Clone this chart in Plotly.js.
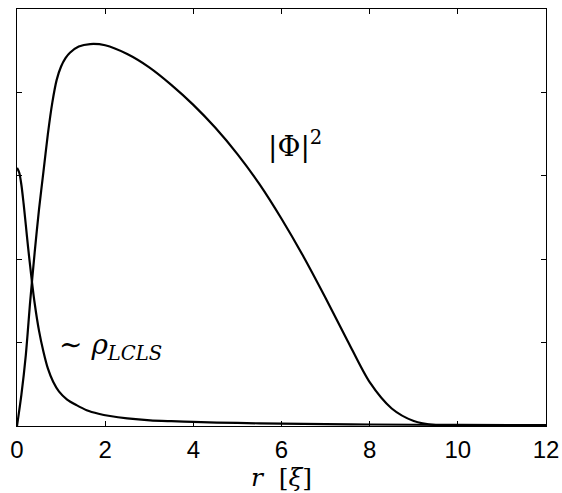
<!DOCTYPE html>
<html>
<head>
<meta charset="utf-8">
<script src="https://cdn.plot.ly/plotly-3.0.1.min.js"></script>
<style>html,body{margin:0;padding:0;background:#fff;}#chart{width:562px;height:493px;}</style>
</head>
<body>
<div id="chart"></div>
<script>
// |Phi|^2 profile
const rPhi = [0, 0.1, 0.2, 0.3, 0.4, 0.5, 0.6, 0.7, 0.8, 0.9, 1.0, 1.1, 1.2, 1.4, 1.66, 2.0, 2.5, 3.0, 3.5, 4.0, 4.5, 5.0, 5.5, 6.0, 6.5, 7.0, 7.5, 8.0, 8.5, 9.0, 9.5, 10.0, 11.0, 12];
const vPhi = [0, 0.075, 0.17, 0.30, 0.415, 0.52, 0.61, 0.70, 0.775, 0.83, 0.862, 0.882, 0.895, 0.91, 0.916, 0.913, 0.892, 0.86, 0.818, 0.77, 0.715, 0.652, 0.58, 0.497, 0.406, 0.307, 0.204, 0.105, 0.042, 0.012, 0.002, 0, 0, 0];
// ~ rho_LCLS profile
const rRho = [0, 0.05, 0.1, 0.15, 0.2, 0.25, 0.3, 0.34, 0.4, 0.5, 0.6, 0.7, 0.82, 0.95, 1.13, 1.35, 1.58, 1.85, 2.11, 2.5, 3.02, 3.5, 4, 5, 6, 7, 8, 10, 12];
const vRho = [0.619, 0.608, 0.578, 0.533, 0.482, 0.43, 0.382, 0.345, 0.295, 0.228, 0.178, 0.138, 0.106, 0.083, 0.064, 0.05, 0.038, 0.0295, 0.024, 0.0185, 0.0137, 0.0115, 0.0097, 0.0073, 0.0056, 0.0045, 0.0036, 0.0025, 0.0019];
const xTicks = [0, 2, 4, 6, 8, 10, 12];

const serif = 'DejaVu Serif';
const line = {color: '#000', width: 2.2, shape: 'spline', smoothing: 0.8};
const data = [
  {x: rPhi, y: vPhi, type: 'scatter', mode: 'lines', line: line, hoverinfo: 'skip'},
  {x: rRho, y: vRho, type: 'scatter', mode: 'lines', line: line, hoverinfo: 'skip'}
];
const layout = {
  width: 562, height: 493,
  margin: {l: 17, r: 16, t: 9, b: 67},
  paper_bgcolor: '#fff', plot_bgcolor: '#fff',
  showlegend: false,
  xaxis: {
    range: [0, 12], tickvals: xTicks, ticktext: xTicks.map(String),
    ticks: 'inside', ticklen: 5, tickcolor: '#000', tickwidth: 1,
    showline: true, linecolor: '#000', linewidth: 1.3, mirror: 'ticks',
    showgrid: false, zeroline: false, ticklabelstandoff: 2,
    tickfont: {family: 'Liberation Sans', size: 24, color: '#000'},
    title: {text: '<i>r</i>  [<i>ξ</i>]', font: {family: serif, size: 25, color: '#000'}, standoff: 0}
  },
  yaxis: {
    range: [0, 1], dtick: 0.2, tick0: 0,
    ticks: 'inside', ticklen: 5, tickcolor: '#000', tickwidth: 1,
    showline: true, linecolor: '#000', linewidth: 1.3, mirror: 'ticks',
    showgrid: false, zeroline: false, showticklabels: false
  },
  annotations: [
    {x: 6.31, y: 0.674, xref: 'x', yref: 'y', showarrow: false,
     text: '|Φ|<sup>2</sup>', font: {family: serif, size: 28, color: '#000'}},
    {x: 2.11, y: 0.19, xref: 'x', yref: 'y', showarrow: false,
     text: '∼ <i>ρ</i><sub><i>LCLS</i></sub>', font: {family: serif, size: 28, color: '#000'}}
  ]
};
Plotly.newPlot('chart', data, layout, {displayModeBar: false, staticPlot: true});
</script>
</body>
</html>
